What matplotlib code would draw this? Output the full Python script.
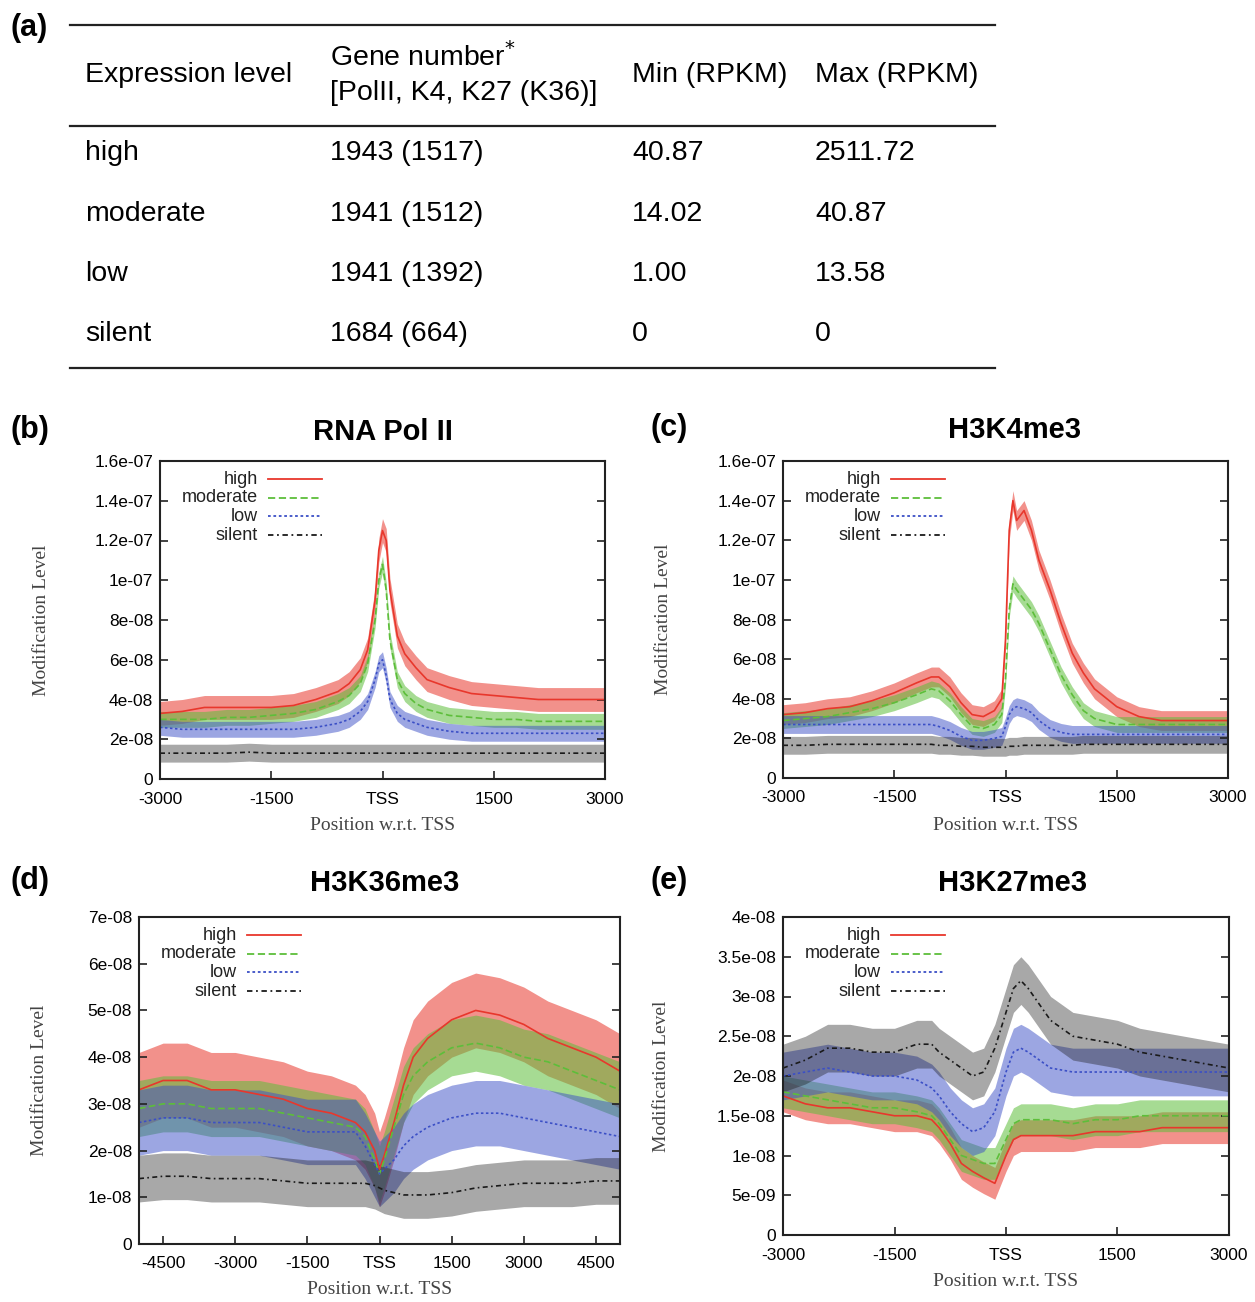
import numpy as np
import matplotlib
matplotlib.use("Agg")
import matplotlib.pyplot as plt
from matplotlib.lines import Line2D

# ---- table (a) ----
table_header = ["Expression level", "Gene number$^{*}$", "[PolII, K4, K27 (K36)]", "Min (RPKM)", "Max (RPKM)"]
levels = ["high", "moderate", "low", "silent"]
gene_numbers = ["1943 (1517)", "1941 (1512)", "1941 (1392)", "1684 (664)"]
min_rpkm = ["40.87", "14.02", "1.00", "0"]
max_rpkm = ["2511.72", "40.87", "13.58", "0"]

SCALE = 1e-8  # all profile values below are in units of 1e-8

# ---- (b) RNA Pol II ----
bx = [-3000, -2700, -2400, -2100, -1800, -1500, -1200, -900, -600, -450, -300, -200, -100, -50,
      0, 50, 100, 200, 300, 450, 600, 900, 1200, 1500, 1800, 2100, 2400, 2700, 3000]
b_high = [3.3, 3.4, 3.6, 3.6, 3.6, 3.6, 3.7, 4.0, 4.4, 4.8, 5.5, 6.5, 9.0, 11.5,
          12.5, 12.0, 9.5, 7.2, 6.3, 5.6, 5.0, 4.6, 4.3, 4.2, 4.1, 4.0, 4.0, 4.0, 4.0]
b_mod = [3.0, 3.0, 3.0, 3.1, 3.1, 3.2, 3.3, 3.5, 3.9, 4.2, 4.8, 5.8, 8.0, 10.0,
         10.8, 9.5, 7.0, 5.0, 4.3, 3.8, 3.5, 3.2, 3.1, 3.0, 3.0, 2.9, 2.9, 2.9, 2.9]
b_low = [2.6, 2.5, 2.5, 2.5, 2.5, 2.5, 2.5, 2.6, 2.8, 3.0, 3.4, 3.9, 5.0, 5.8,
         6.0, 5.2, 4.0, 3.3, 3.0, 2.8, 2.6, 2.4, 2.3, 2.3, 2.3, 2.3, 2.3, 2.3, 2.3]
b_silent = [1.3, 1.3, 1.3, 1.3, 1.35, 1.3, 1.3, 1.3, 1.3, 1.3, 1.3, 1.3, 1.3, 1.3,
            1.3, 1.3, 1.3, 1.3, 1.3, 1.3, 1.3, 1.3, 1.3, 1.3, 1.3, 1.3, 1.3, 1.3, 1.3]
b_spread = [0.6, 0.4, 0.4, 0.45]

# ---- (c) H3K4me3 ----
cx = [-3000, -2700, -2400, -2100, -1800, -1500, -1200, -1000, -900, -750, -600, -450, -300, -150, -50,
      0, 50, 100, 150, 250, 350, 450, 600, 750, 900, 1050, 1200, 1500, 1800, 2100, 2400, 2700, 3000]
c_high = [3.2, 3.3, 3.5, 3.6, 3.9, 4.3, 4.8, 5.1, 5.1, 4.6, 3.8, 3.2, 3.1, 3.4, 4.0,
          7.0, 12.5, 14.0, 13.0, 13.5, 12.5, 11.0, 9.5, 7.8, 6.3, 5.3, 4.5, 3.6, 3.1, 2.9, 2.9, 2.9, 2.9]
c_mod = [2.9, 3.0, 3.1, 3.3, 3.5, 3.8, 4.2, 4.5, 4.4, 3.9, 3.2, 2.6, 2.5, 2.7, 3.2,
         5.0, 8.5, 9.8, 9.5, 9.0, 8.5, 7.8, 6.5, 5.2, 4.2, 3.4, 3.0, 2.7, 2.7, 2.7, 2.7, 2.7, 2.7]
c_low = [2.7, 2.7, 2.7, 2.7, 2.7, 2.7, 2.7, 2.7, 2.6, 2.4, 2.1, 1.9, 1.9, 2.0, 2.1,
         2.6, 3.2, 3.5, 3.6, 3.5, 3.3, 2.9, 2.5, 2.3, 2.2, 2.2, 2.2, 2.2, 2.2, 2.2, 2.2, 2.2, 2.2]
c_silent = [1.65, 1.65, 1.7, 1.7, 1.7, 1.7, 1.7, 1.7, 1.65, 1.65, 1.6, 1.6, 1.55, 1.55, 1.55,
            1.55, 1.6, 1.6, 1.6, 1.65, 1.65, 1.65, 1.65, 1.65, 1.65, 1.7, 1.7, 1.7, 1.7, 1.7, 1.7, 1.7, 1.7]
c_spread = [0.5, 0.4, 0.45, 0.45]

# ---- (d) H3K36me3 ----
dx = [-5000, -4500, -4000, -3500, -3000, -2500, -2000, -1500, -1000, -500, -300, -100, 0,
      100, 300, 500, 700, 1000, 1500, 2000, 2500, 3000, 3500, 4000, 4500, 5000]
d_high = [3.3, 3.5, 3.5, 3.3, 3.3, 3.2, 3.1, 2.9, 2.8, 2.6, 2.4, 2.0, 1.6,
          1.9, 2.6, 3.4, 4.0, 4.4, 4.8, 5.0, 4.9, 4.7, 4.4, 4.2, 4.0, 3.7]
d_mod = [2.9, 3.0, 3.0, 2.9, 2.9, 2.9, 2.8, 2.7, 2.6, 2.5, 2.3, 1.8, 1.5,
         1.8, 2.5, 3.2, 3.6, 3.9, 4.2, 4.3, 4.2, 4.0, 3.9, 3.7, 3.5, 3.3]
d_low = [2.6, 2.7, 2.7, 2.6, 2.6, 2.6, 2.5, 2.4, 2.4, 2.4, 2.1, 1.7, 1.5,
         1.6, 1.8, 2.1, 2.3, 2.5, 2.7, 2.8, 2.8, 2.7, 2.6, 2.5, 2.4, 2.3]
d_silent = [1.4, 1.45, 1.45, 1.4, 1.4, 1.4, 1.35, 1.3, 1.3, 1.3, 1.3, 1.25, 1.2,
            1.15, 1.1, 1.05, 1.05, 1.05, 1.1, 1.2, 1.25, 1.3, 1.3, 1.3, 1.35, 1.35]
d_spread = [0.8, 0.6, 0.7, 0.5]

# ---- (e) H3K27me3 ----
ex = [-3000, -2700, -2400, -2100, -1800, -1500, -1200, -1000, -900, -750, -600, -450, -300, -150,
      0, 100, 200, 300, 450, 600, 900, 1200, 1500, 1800, 2100, 2400, 2700, 3000]
e_high = [1.75, 1.65, 1.6, 1.6, 1.55, 1.5, 1.5, 1.45, 1.35, 1.15, 0.9, 0.8, 0.72, 0.65,
          1.0, 1.2, 1.25, 1.25, 1.25, 1.25, 1.25, 1.3, 1.3, 1.3, 1.35, 1.35, 1.35, 1.35]
e_mod = [1.8, 1.75, 1.7, 1.65, 1.6, 1.6, 1.55, 1.5, 1.4, 1.2, 1.0, 0.95, 0.9, 0.9,
         1.2, 1.4, 1.45, 1.45, 1.45, 1.45, 1.4, 1.45, 1.45, 1.5, 1.5, 1.5, 1.5, 1.5]
e_low = [2.0, 2.05, 2.1, 2.05, 2.0, 2.0, 1.95, 1.85, 1.75, 1.55, 1.4, 1.3, 1.35, 1.55,
         2.05, 2.3, 2.35, 2.3, 2.2, 2.1, 2.05, 2.05, 2.05, 2.05, 2.05, 2.05, 2.05, 2.05]
e_silent = [2.1, 2.2, 2.35, 2.35, 2.3, 2.3, 2.4, 2.4, 2.3, 2.2, 2.1, 2.0, 2.05, 2.35,
            2.8, 3.1, 3.2, 3.1, 2.9, 2.7, 2.5, 2.45, 2.4, 2.3, 2.25, 2.2, 2.15, 2.1]
e_spread = [0.2, 0.2, 0.3, 0.3]

# ---- ticks ----
xt_6k = [-3000, -1500, 0, 1500, 3000]
xl_6k = ["-3000", "-1500", "TSS", "1500", "3000"]
xt_10k = [-4500, -3000, -1500, 0, 1500, 3000, 4500]
xl_10k = ["-4500", "-3000", "-1500", "TSS", "1500", "3000", "4500"]
yt_16 = [0, 2e-8, 4e-8, 6e-8, 8e-8, 1e-7, 1.2e-7, 1.4e-7, 1.6e-7]
yl_16 = ["0", "2e-08", "4e-08", "6e-08", "8e-08", "1e-07", "1.2e-07", "1.4e-07", "1.6e-07"]
yt_7 = [0, 1e-8, 2e-8, 3e-8, 4e-8, 5e-8, 6e-8, 7e-8]
yl_7 = ["0", "1e-08", "2e-08", "3e-08", "4e-08", "5e-08", "6e-08", "7e-08"]
yt_4 = [0, 5e-9, 1e-8, 1.5e-8, 2e-8, 2.5e-8, 3e-8, 3.5e-8, 4e-8]
yl_4 = ["0", "5e-09", "1e-08", "1.5e-08", "2e-08", "2.5e-08", "3e-08", "3.5e-08", "4e-08"]

colors = ["#e8372c", "#5dbe3a", "#3b4fc6", "#1a1a1a"]
alphas = [0.55, 0.55, 0.5, 0.38]
styles = ["-", (0, (4, 2)), (0, (1.5, 1.5)), (0, (3, 2, 1, 2))]

W, H = 1255, 1302
fig = plt.figure(figsize=(W / 100, H / 100), dpi=100)
sans = ["Liberation Sans", "DejaVu Sans"]
serif = ["Liberation Serif", "DejaVu Serif"]


def px(x, y):
    return x / W, 1 - y / H


# table
for yy in [25, 126, 368]:
    fig.add_artist(Line2D([70 / W, 995 / W], [1 - yy / H] * 2, color="#222222", lw=1.6))
TFS = 20.5
fig.text(*px(85, 75), table_header[0], fontsize=TFS, family=sans, va="center")
fig.text(*px(330, 57), table_header[1], fontsize=TFS, family=sans, va="center")
fig.text(*px(330, 93), table_header[2], fontsize=TFS, family=sans, va="center")
fig.text(*px(632, 75), table_header[3], fontsize=TFS, family=sans, va="center")
fig.text(*px(815, 75), table_header[4], fontsize=TFS, family=sans, va="center")
for i, yy in enumerate([153, 214, 274, 334]):
    fig.text(*px(85, yy), levels[i], fontsize=TFS, family=sans, va="center")
    fig.text(*px(330, yy), gene_numbers[i], fontsize=TFS, family=sans, va="center")
    fig.text(*px(632, yy), min_rpkm[i], fontsize=TFS, family=sans, va="center")
    fig.text(*px(815, yy), max_rpkm[i], fontsize=TFS, family=sans, va="center")

panels = [
    dict(rect=(160, 461, 605, 779), x=bx, ys=[b_high, b_mod, b_low, b_silent], sp=b_spread,
         xlim=(-3000, 3000), ylim=(0, 1.6e-7), xt=xt_6k, xl=xl_6k, yt=yt_16, yl=yl_16,
         title="RNA Pol II", tx=383, lab="(b)", lx=10, ty=432, ylx=42, xly=826),
    dict(rect=(783, 461, 1228, 778), x=cx, ys=[c_high, c_mod, c_low, c_silent], sp=c_spread,
         xlim=(-3000, 3000), ylim=(0, 1.6e-7), xt=xt_6k, xl=xl_6k, yt=yt_16, yl=yl_16,
         title="H3K4me3", tx=1015, lab="(c)", lx=650, ty=430, ylx=664, xly=826),
    dict(rect=(139, 917, 620, 1244), x=dx, ys=[d_high, d_mod, d_low, d_silent], sp=d_spread,
         xlim=(-5000, 5000), ylim=(0, 7e-8), xt=xt_10k, xl=xl_10k, yt=yt_7, yl=yl_7,
         title="H3K36me3", tx=385, lab="(d)", lx=10, ty=883, ylx=40, xly=1290),
    dict(rect=(783, 917, 1229, 1235), x=ex, ys=[e_high, e_mod, e_low, e_silent], sp=e_spread,
         xlim=(-3000, 3000), ylim=(0, 4e-8), xt=xt_6k, xl=xl_6k, yt=yt_4, yl=yl_4,
         title="H3K27me3", tx=1013, lab="(e)", lx=650, ty=883, ylx=662, xly=1282),
]

for p in panels:
    l, t, r, b = p["rect"]
    ax = fig.add_axes([l / W, 1 - b / H, (r - l) / W, (b - t) / H])
    x = np.array(p["x"])
    for vals, s, c, a, ls in zip(p["ys"], p["sp"], colors, alphas, styles):
        v = np.array(vals) * SCALE
        ax.fill_between(x, v - s * SCALE, v + s * SCALE, color=c, alpha=a, lw=0)
        ax.plot(x, v, color=c, ls=ls, lw=1.2)
    ax.set_xlim(*p["xlim"])
    ax.set_ylim(*p["ylim"])
    ax.set_xticks(p["xt"])
    ax.set_xticklabels(p["xl"])
    ax.set_yticks(p["yt"])
    ax.set_yticklabels(p["yl"])
    ax.tick_params(direction="in", length=6, width=1.2, labelsize=12.5, right=True, top=False,
                   color="#222222")
    ax.tick_params(axis="y", pad=5)
    ax.tick_params(axis="x", pad=9)
    for lbl in ax.get_xticklabels() + ax.get_yticklabels():
        lbl.set_family(sans)
    for sp in ax.spines.values():
        sp.set_linewidth(1.5)
        sp.set_color("#222222")
    # legend drawn gnuplot style: right-aligned text, sample to the right
    lw_ = (r - l)
    tr = ax.transAxes
    for k, name in enumerate(levels):
        yy = 1 - (18 + 18.7 * k) / (b - t)
        ax.text(98 / lw_, yy, name, transform=tr, ha="right", va="center", fontsize=13,
                family=sans, color="#222222")
        ax.add_line(Line2D([108 / lw_, 162 / lw_], [yy, yy], transform=tr, color=colors[k],
                           ls=styles[k], lw=1.3))
    fig.text(*px(p["tx"], p["ty"]), p["title"], fontsize=21, fontweight="bold", family=sans,
             ha="center", va="center")
    fig.text(*px(p["lx"], p["ty"] - 2), p["lab"], fontsize=22, fontweight="bold", family=sans,
             ha="left", va="center")
    fig.text(*px(p["ylx"], (t + b) / 2), "Modification Level", fontsize=14, family=serif,
             rotation=90, ha="center", va="center", color="#444444")
    fig.text(*px((l + r) / 2, p["xly"]), "Position w.r.t. TSS", fontsize=14, family=serif,
             ha="center", va="center", color="#444444")

fig.text(*px(10, 28), "(a)", fontsize=22, fontweight="bold", family=sans, ha="left", va="center")

fig.savefig("out.png", dpi=100)
